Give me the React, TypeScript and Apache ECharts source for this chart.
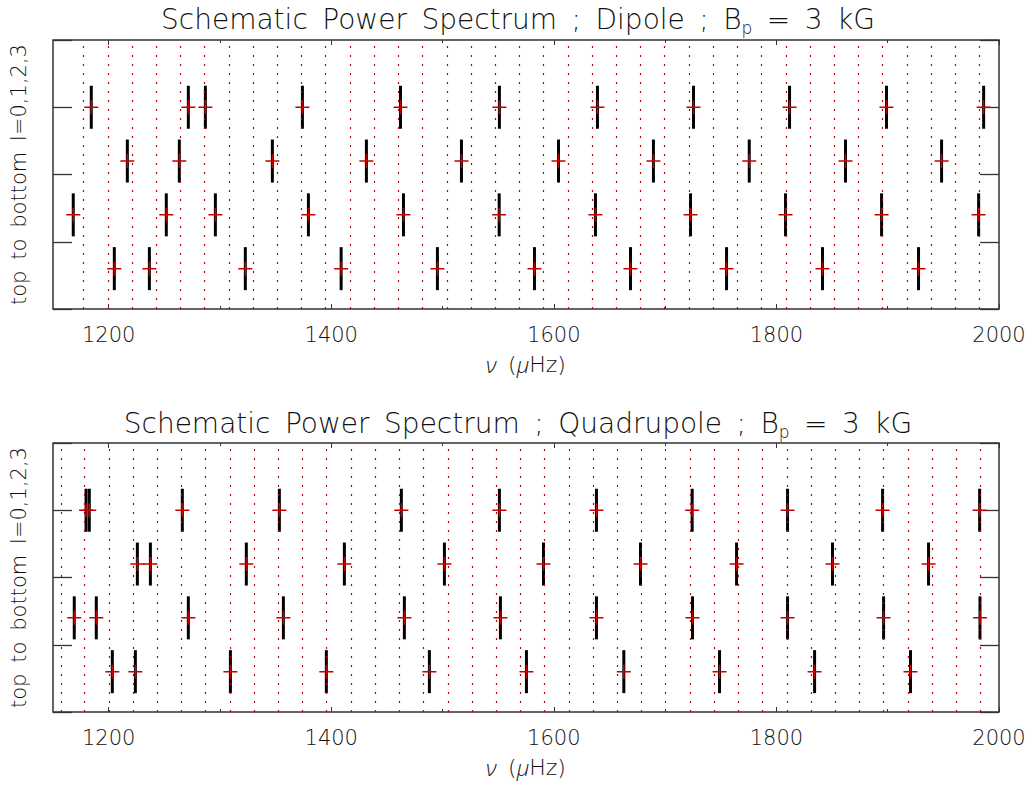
import React, { useEffect, useRef } from 'react';
import * as echarts from 'echarts';

// ---------- data ----------
const xMin = 1150;
const xMax = 2000;
const xLabelValues = [1200, 1400, 1600, 1800, 2000];
const xMinorTickValues = [1300, 1500, 1700, 1900];
const rowLevels = [3.0, 2.2, 1.4, 0.6]; // rows for l = 0,1,2,3 (top to bottom)

// Dipole panel: mode frequencies (muHz) per degree l
const dipoleL0 = [1184.4, 1271.6, 1286.9, 1374.1, 1462.2, 1551.1, 1639.2, 1725.5, 1811.8, 1898.9, 1986.2];
const dipoleL1 = [1216.8, 1263.5, 1347.1, 1431.6, 1517.0, 1604.2, 1689.5, 1775.6, 1862.1, 1948.4];
const dipoleL2 = [1168.2, 1251.8, 1295.9, 1379.5, 1464.9, 1550.9, 1637.4, 1722.8, 1808.2, 1894.5, 1981.7];
const dipoleL3 = [1205.1, 1236.6, 1322.8, 1408.9, 1495.4, 1582.6, 1668.9, 1755.2, 1841.4, 1927.7];

// Quadrupole panel
const quadL0 = [1179.7, 1182.6, 1266.2, 1353.4, 1463.0, 1551.1, 1638.3, 1724.3, 1810.0, 1895.4, 1982.6];
const quadL1 = [1225.8, 1237.5, 1323.7, 1411.8, 1501.7, 1590.7, 1677.9, 1764.2, 1850.4, 1936.7];
const quadL2 = [1169.1, 1188.9, 1271.6, 1357.0, 1465.7, 1552.0, 1638.3, 1724.6, 1810.0, 1896.3, 1982.9];
const quadL3 = [1203.3, 1224.0, 1309.4, 1395.6, 1488.2, 1575.4, 1662.9, 1748.9, 1834.3, 1920.5];

// Red dotted reference frequencies
const dipoleRefLines = [
  1177.4, 1199.2, 1220.9, 1242.7, 1264.4, 1286.2, 1308.0, 1329.7, 1351.5, 1373.2,
  1395.0, 1416.8, 1438.5, 1460.3, 1482.0, 1503.8, 1525.6, 1547.3, 1569.1, 1590.8,
  1612.6, 1634.4, 1656.1, 1677.9, 1699.6, 1721.4, 1743.2, 1764.9, 1786.7, 1808.4,
  1830.2, 1852.0, 1873.7, 1895.5, 1917.2, 1939.0, 1960.8, 1982.5,
];
const quadRefLines = [
  1157.2, 1178.3, 1200.1, 1221.8, 1243.6, 1265.3, 1287.1, 1308.9, 1330.6, 1352.4,
  1374.1, 1395.9, 1417.7, 1439.4, 1461.2, 1482.9, 1504.7, 1526.5, 1548.2, 1570.0,
  1591.7, 1613.5, 1635.3, 1657.0, 1678.8, 1700.5, 1722.3, 1744.1, 1765.8, 1787.6,
  1809.3, 1831.1, 1852.9, 1874.6, 1896.4, 1918.1, 1939.9, 1961.7, 1983.4,
];

const panelNames = ['Dipole', 'Quadrupole'];
const yAxisTitle = 'top to bottom l=0,1,2,3';

// ---------- styling ----------
const FONT = "'DejaVu Sans', sans-serif";
const ITALIC_FONT = "'Open Sans', 'DejaVu Sans', sans-serif";
const FW = 300;
const AX = '#333333';
const TXT = '#111111';
const RED = '#c40000';
const SP = ' \u2009'; // wide word spacing like the original vector font
const CROSS_PATH = 'path://M6.25,0H7.75V6.25H14V7.75H7.75V14H6.25V7.75H0V6.25H6.25Z';

const panels = [
  { rows: [dipoleL0, dipoleL1, dipoleL2, dipoleL3], lines: dipoleRefLines, top: 40, titleY: 19.5 },
  { rows: [quadL0, quadL1, quadL2, quadL3], lines: quadRefLines, top: 443, titleY: 423 },
];

const wide = (s: string) => s.split(' ').join(SP);

function buildOption() {
  const grid: any[] = [];
  const xAxis: any[] = [];
  const yAxis: any[] = [];
  const series: any[] = [];
  const graphic: any[] = [];

  panels.forEach((p, g) => {
    grid.push({
      left: 53, top: p.top, width: 946, height: 269,
      show: true, borderColor: AX, borderWidth: 1.5, backgroundColor: 'transparent',
    });
    const baseX = {
      gridIndex: g, type: 'value', min: xMin, max: xMax,
      axisLine: { show: false }, splitLine: { show: false },
    };
    xAxis.push({
      ...baseX, position: 'bottom',
      axisTick: { inside: true, length: 5, customValues: xLabelValues, lineStyle: { color: AX, width: 1 } },
      axisLabel: {
        customValues: xLabelValues, formatter: (v: number) => String(v),
        fontSize: 21, fontFamily: FONT, fontWeight: FW, color: TXT, margin: 15,
      },
      name: '{i|ν}' + SP + '({i|μ}Hz)', nameLocation: 'middle', nameGap: 44,
      nameTextStyle: {
        fontSize: 22, fontFamily: FONT, fontWeight: FW, color: TXT,
        rich: { i: { fontStyle: 'italic', fontSize: 22, fontFamily: ITALIC_FONT, fontWeight: 300, color: TXT } },
      },
    });
    xAxis.push({
      ...baseX, position: 'bottom',
      axisTick: { inside: true, length: 3, customValues: xMinorTickValues, lineStyle: { color: AX, width: 1 } },
      axisLabel: { show: false },
    });
    xAxis.push({
      ...baseX, position: 'top',
      axisTick: { inside: true, length: 5, customValues: xLabelValues, lineStyle: { color: AX, width: 1 } },
      axisLabel: { show: false },
    });
    xAxis.push({
      ...baseX, position: 'top',
      axisTick: { inside: true, length: 3, customValues: xMinorTickValues, lineStyle: { color: AX, width: 1 } },
      axisLabel: { show: false },
    });
    const baseY = {
      gridIndex: g, type: 'value', min: 0, max: 4, interval: 1,
      axisLine: { show: false }, splitLine: { show: false }, axisLabel: { show: false },
      axisTick: { inside: true, length: 19, lineStyle: { color: AX, width: 1.3 } },
    };
    yAxis.push({
      ...baseY, position: 'left',
      name: wide(yAxisTitle), nameLocation: 'middle', nameGap: 24,
      nameTextStyle: { fontSize: 21, fontFamily: FONT, fontWeight: FW, color: TXT },
    });
    yAxis.push({ ...baseY, position: 'right' });

    const xi = g * 4;
    const yi = g * 2;
    series.push({
      type: 'scatter', xAxisIndex: xi, yAxisIndex: yi, data: [], z: 1, silent: true,
      markLine: {
        silent: true, symbol: ['none', 'none'], label: { show: false },
        lineStyle: { color: RED, width: 1.2, type: [2, 7] },
        emphasis: { disabled: true },
        data: p.lines.map((v) => ({ xAxis: v })),
      },
    });
    const pts: number[][] = [];
    p.rows.forEach((freqs, l) => freqs.forEach((f) => pts.push([f, rowLevels[l]])));
    series.push({
      type: 'scatter', xAxisIndex: xi, yAxisIndex: yi, data: pts, z: 2, silent: true,
      symbol: 'rect', symbolSize: [3, 43], itemStyle: { color: '#000', opacity: 1 },
    });
    series.push({
      type: 'scatter', xAxisIndex: xi, yAxisIndex: yi, data: pts, z: 3, silent: true,
      symbol: CROSS_PATH, symbolSize: 14, itemStyle: { color: RED, opacity: 1 },
    });

    graphic.push({
      type: 'text', x: 518, y: p.titleY, silent: true,
      style: {
        text: wide(`Schematic Power Spectrum ; ${panelNames[g]} ; B{s|p} = 3 kG`),
        fontSize: 28, fontFamily: FONT, fontWeight: FW, fill: TXT, lineHeight: 34,
        rich: { s: { fontSize: 17, fontFamily: FONT, fontWeight: FW, fill: TXT, lineHeight: 17, verticalAlign: 'bottom' } },
        align: 'center', textAlign: 'center', verticalAlign: 'middle', textVerticalAlign: 'middle',
      },
    });
  });

  return { animation: false, backgroundColor: '#ffffff', grid, xAxis, yAxis, series, graphic };
}

export default function App() {
  const ref = useRef<HTMLDivElement>(null);
  useEffect(() => {
    if (!ref.current) return;
    const chart = echarts.init(ref.current, undefined, { renderer: 'svg' });
    chart.setOption(buildOption() as any);
    return () => chart.dispose();
  }, []);
  return (
    <div
      ref={ref}
      style={{ position: 'fixed', left: 0, top: 0, width: 1031, height: 785, background: '#fff' }}
    />
  );
}
